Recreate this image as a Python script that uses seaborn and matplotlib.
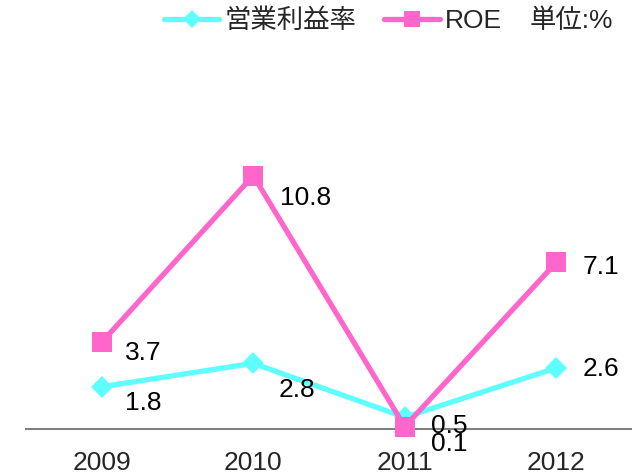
import matplotlib
matplotlib.use('Agg')
import matplotlib.pyplot as plt
import seaborn as sns
import pandas as pd
from matplotlib.lines import Line2D

years = ['2009', '2010', '2011', '2012']
op_margin = [1.8, 2.8, 0.5, 2.6]
roe = [3.7, 10.8, 0.1, 7.1]
op_label = '営業利益率'
roe_label = 'ROE'
unit_text = '単位:%'

# label offsets in points (dx, dy) – Excel places them a bit differently per point
op_offsets = [(17, -11.5), (18, -19), (19, -6.5), (19, -1)]
roe_offsets = [(17, -8), (19.5, -16), (19, -12.5), (19, -3)]

sns.set_theme(style='white')
plt.rcParams['font.family'] = ['Liberation Sans', 'Noto Sans CJK JP', 'DejaVu Sans']

cyan = '#5FFFFF'
pink = '#FF66CC'
fs = 19

fig = plt.figure(figsize=(6.32, 4.74), dpi=100)
ax = fig.add_axes([26 / 632, 1 - 429 / 474, 1 - 26 / 632, (429 - 53.6) / 474])

x = list(range(len(years)))
df = pd.DataFrame({'x': x, 'op': op_margin, 'roe': roe})

sns.lineplot(data=df, x='x', y='op', ax=ax, color=cyan, linewidth=3.8,
             marker='D', markersize=11, markeredgewidth=0, clip_on=False, zorder=3)
sns.lineplot(data=df, x='x', y='roe', ax=ax, color=pink, linewidth=3.8,
             marker='s', markersize=14, markeredgewidth=0, clip_on=False, zorder=4)

for xi, v, off in zip(x, op_margin, op_offsets):
    ax.annotate(f'{v}', (xi, v), xytext=off, textcoords='offset points',
                ha='left', va='center', fontsize=fs, color='black', zorder=6)
for xi, v, off in zip(x, roe, roe_offsets):
    ax.annotate(f'{v}', (xi, v), xytext=off, textcoords='offset points',
                ha='left', va='center', fontsize=fs, color='black', zorder=6)

ax.set_xlim(-0.5, 3.5)
ax.set_ylim(0, 16)
ax.set_xticks(x)
ax.set_xticklabels(years, fontsize=fs)
ax.set_yticks([])
ax.set_xlabel('')
ax.set_ylabel('')
ax.tick_params(axis='x', length=0, pad=16)
for s in ['top', 'right', 'left']:
    ax.spines[s].set_visible(False)
ax.spines['bottom'].set_color('#808080')
ax.spines['bottom'].set_linewidth(1.5)

handles = [
    Line2D([], [], color=cyan, linewidth=3.8, marker='D', markersize=9, markeredgewidth=0),
    Line2D([], [], color=pink, linewidth=3.8, marker='s', markersize=12, markeredgewidth=0),
]
fig.legend(handles, [op_label, roe_label], loc='center left',
           bbox_to_anchor=(164 / 632, 1 - 21 / 474), ncol=2, frameon=False,
           fontsize=fs, handlelength=2.1, handletextpad=0.2, columnspacing=1.05,
           borderpad=0, borderaxespad=0)
fig.text(530 / 632, 1 - 21 / 474, unit_text, fontsize=fs, ha='left', va='center')

fig.savefig('out.png', dpi=100)
